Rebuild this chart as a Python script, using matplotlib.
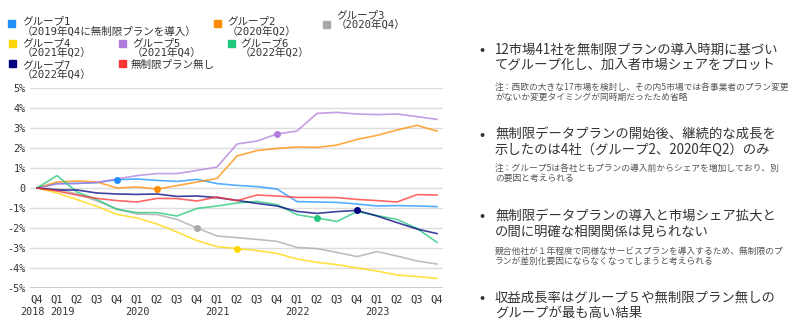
import matplotlib
matplotlib.use('Agg')
import matplotlib.pyplot as plt
import matplotlib.transforms as mtransforms
from matplotlib.patches import Rectangle

# フォント設定（日本語はNoto Sans CJK JP）
JP = ['Noto Sans CJK JP', 'DejaVu Sans']
MONO = ['DejaVu Sans Mono', 'Noto Sans CJK JP']

# データ（加入者市場シェアの変化, %ポイント）
quarters = ['Q4', 'Q1', 'Q2', 'Q3', 'Q4', 'Q1', 'Q2', 'Q3', 'Q4', 'Q1', 'Q2',
            'Q3', 'Q4', 'Q1', 'Q2', 'Q3', 'Q4', 'Q1', 'Q2', 'Q3', 'Q4']
years = ['2018', '2019', '', '', '', '2020', '', '', '', '2021', '',
         '', '', '2022', '', '', '', '2023', '', '', '']

g1 = [0, 0.23, 0.23, 0.27, 0.42, 0.45, 0.38, 0.33, 0.43, 0.22, 0.13,
      0.07, -0.05, -0.68, -0.7, -0.72, -0.8, -0.9, -0.88, -0.9, -0.93]
g2 = [0, 0.3, 0.35, 0.3, 0.0, 0.05, -0.05, 0.12, 0.3, 0.48, 1.6,
      1.87, 1.98, 2.05, 2.03, 2.15, 2.43, 2.63, 2.9, 3.13, 2.85]
g3 = [0, -0.05, -0.3, -0.65, -1.05, -1.3, -1.33, -1.57, -2.0, -2.4, -2.48,
      -2.57, -2.67, -2.97, -3.03, -3.22, -3.43, -3.18, -3.4, -3.65, -3.8]
g4 = [0, -0.25, -0.58, -0.92, -1.32, -1.5, -1.8, -2.2, -2.63, -2.93, -3.03,
      -3.13, -3.27, -3.55, -3.72, -3.83, -4.0, -4.15, -4.35, -4.43, -4.52]
g5 = [0, 0.2, 0.23, 0.28, 0.45, 0.62, 0.72, 0.72, 0.88, 1.05, 2.2,
      2.35, 2.7, 2.85, 3.73, 3.78, 3.7, 3.67, 3.7, 3.57, 3.43]
g6 = [0, 0.62, -0.2, -0.58, -1.07, -1.23, -1.23, -1.4, -1.02, -0.9, -0.75,
      -0.67, -0.83, -1.33, -1.5, -1.67, -1.18, -1.38, -1.57, -2.02, -2.72]
g7 = [0, -0.1, -0.1, -0.25, -0.3, -0.32, -0.3, -0.42, -0.4, -0.48, -0.62,
      -0.77, -0.9, -1.17, -1.27, -1.18, -1.12, -1.4, -1.73, -2.05, -2.28]
no_plan = [0, -0.15, -0.35, -0.52, -0.63, -0.7, -0.52, -0.53, -0.65, -0.45, -0.63,
           -0.35, -0.4, -0.47, -0.47, -0.48, -0.57, -0.63, -0.7, -0.33, -0.35]

# 導入時期（マーカー位置のインデックス）
series = [
    (g1, '#1E90FF', 4), (g2, '#FF8C00', 6), (g3, '#A9A9A9', 8),
    (g4, '#FFD700', 10), (g5, '#B07CDB', 12), (g6, '#20C77A', 14),
    (g7, '#000080', 16), (no_plan, '#FF3333', None),
]

W, H = 800, 331
fig = plt.figure(figsize=(W / 100, H / 100), dpi=100)


def fx(px):
    return px / W


def fy(py):
    return 1 - py / H


ax = fig.add_axes([fx(30), fy(288), 413 / W, 200 / H])
x = list(range(len(quarters)))
for vals, col, mk in series:
    ax.plot(x, vals, color=col, lw=1.2, alpha=0.75, zorder=3)
    if mk is not None:
        ax.plot(x[mk], vals[mk], 'o', color=col, ms=4, zorder=4)

ax.set_xlim(-0.35, 20.3)
ax.set_ylim(-5, 5)
yt = list(range(-5, 6))
ax.set_yticks(yt)
ax.set_yticklabels([('0' if v == 0 else f'{v}%') for v in yt], family=MONO,
                   fontsize=7.3, color='#333333')
ax.set_xticks(x)
ax.set_xticklabels(quarters, family=MONO, fontsize=7.5, color='#333333')
ax.tick_params(length=0, pad=5)
ax.tick_params(axis='y', pad=3)

# 年ラベル（2段目）: 2018と2019は重ならないように少しずらす
year_shift = {0: -5, 1: 5}
for i, yr in enumerate(years):
    if not yr:
        continue
    tr = mtransforms.offset_copy(ax.get_xaxis_transform(), fig=fig,
                                 x=year_shift.get(i, 0), y=0, units='dots')
    ax.text(i, -0.12, yr, transform=tr, family=MONO, fontsize=7.3,
            color='#333333', ha='center', va='center')

for s in ax.spines.values():
    s.set_visible(False)
for v in yt:
    if v == -5:
        ax.axhline(v, color='#c8c8c8', lw=2, zorder=1)
    else:
        ax.axhline(v, color='#dddddd', lw=1, zorder=1)

# 凡例（手動配置）
legend_items = [
    ('#1E90FF', 8, 20, 22, 21.5, 'グループ1', '（2019年Q4に無制限プランを導入）'),
    ('#FF8C00', 214, 20, 227, 21.5, 'グループ2', '（2020年Q2）'),
    ('#A9A9A9', 323, 21, 336, 15, 'グループ3', '（2020年Q4）'),
    ('#FFD700', 9, 40, 22, 43, 'グループ4', '（2021年Q2）'),
    ('#B07CDB', 119, 40, 132, 43, 'グループ5', '（2021年Q4）'),
    ('#20C77A', 228, 40, 240, 43, 'グループ6', '（2022年Q2）'),
    ('#000080', 9, 60, 22, 65, 'グループ7', '（2022年Q4）'),
    ('#FF3333', 119, 60, 131, 65, '無制限プラン無し', ''),
]
for col, sx, sy, tx, ty, l1, l2 in legend_items:
    fig.patches.append(Rectangle((fx(sx), fy(sy + 7)), 7 / W, 7 / H,
                                 transform=fig.transFigure, color=col))
    fig.text(fx(tx), fy(ty), l1, family=MONO, fontsize=7.6, color='#333333',
             va='center', ha='left')
    if l2:
        fig.text(fx(tx), fy(ty + 10), l2, family=MONO, fontsize=7.6,
                 color='#333333', va='center', ha='left')

# 右側のコメント
bullets = [
    (50, ['12市場41社を無制限プランの導入時期に基づい', 'てグループ化し、加入者市場シェアをプロット'],
     87, ['注：西欧の大きな17市場を検討し、その内5市場では各事業者のプラン変更',
          'がないか変更タイミングが同時期だったため省略']),
    (135, ['無制限データプランの開始後、継続的な成長を', '示したのは4社（グループ2、2020年Q2）のみ'],
     168, ['注：グループ5は各社ともプランの導入前からシェアを増加しており、別',
           'の要因と考えられる']),
    (217, ['無制限データプランの導入と市場シェア拡大と', 'の間に明確な相関関係は見られない'],
     251, ['競合他社が１年程度で同様なサービスプランを導入するため、無制限のプ',
           'ランが差別化要因にならなくなってしまうと考えられる']),
    (298, ['収益成長率はグループ５や無制限プラン無しの', 'グループが最も高い結果'],
     None, []),
]
for by, lines, ny, notes in bullets:
    fig.text(fx(482), fy(by), '•', family=JP, fontsize=11, color='#333333',
             va='center', ha='center')
    for i, t in enumerate(lines):
        fig.text(fx(495), fy(by + 14.5 * i), t, family=JP, fontsize=9.6,
                 color='#333333', va='center', ha='left')
    for i, t in enumerate(notes):
        fig.text(fx(495), fy(ny + 10 * i), t, family=JP, fontsize=6.3,
                 color='#555555', va='center', ha='left')

fig.savefig('out.png', dpi=100)
